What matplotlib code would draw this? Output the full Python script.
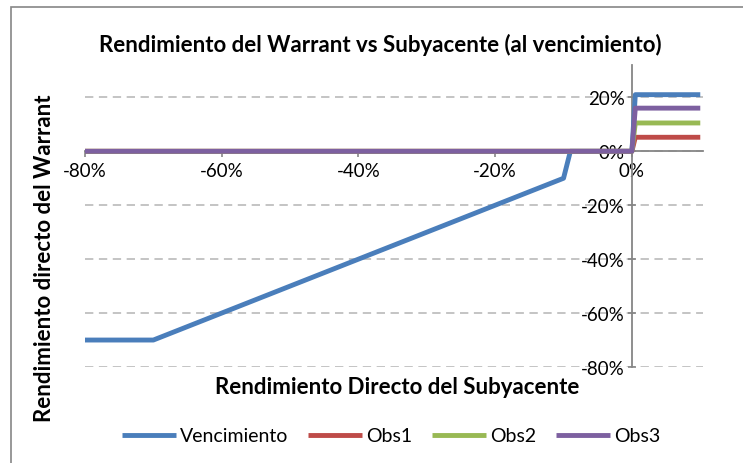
import matplotlib
matplotlib.use("Agg")
import matplotlib.pyplot as plt
from matplotlib.ticker import FuncFormatter
from matplotlib.patches import Rectangle

plt.rcParams['font.family'] = ['Lato', 'DejaVu Sans']
plt.rcParams['lines.scale_dashes'] = False

# Data (fractions)
x_venc = [-0.80, -0.70, -0.10, -0.09, 0.00, 0.005, 0.10]
y_venc = [-0.70, -0.70, -0.10, 0.00, 0.00, 0.21, 0.21]
x_obs = [-0.80, 0.00, 0.005, 0.10]
y_obs1 = [0.00, 0.00, 0.052, 0.052]
y_obs2 = [0.00, 0.00, 0.105, 0.105]
y_obs3 = [0.00, 0.00, 0.16, 0.16]

series = [
    ("Vencimiento", x_venc, y_venc, "#4A7EBB"),
    ("Obs1", x_obs, y_obs1, "#BE4B48"),
    ("Obs2", x_obs, y_obs2, "#98B954"),
    ("Obs3", x_obs, y_obs3, "#7D60A0"),
]

xticks = [-0.8, -0.6, -0.4, -0.2, 0.0]
yticks = [-0.8, -0.6, -0.4, -0.2, 0.0, 0.2]

W, H = 743, 464
fig = plt.figure(figsize=(W / 100, H / 100), dpi=100)
ax = fig.add_axes([85 / W, 1 - 368 / H, (703 - 85) / W, (368 - 66) / H])

for name, xs, ys, c in series:
    ax.plot(xs, ys, color=c, lw=3.5, label=name, solid_joinstyle='round',
            solid_capstyle='butt', zorder=3)

ax.set_xlim(-0.80, 0.104)
ax.set_ylim(-0.80, 0.32)

for s in ['top', 'right']:
    ax.spines[s].set_visible(False)
ax.spines['left'].set_position(('data', 0))
ax.spines['bottom'].set_position(('data', 0))
ax.spines['left'].set_color('#868686')
ax.spines['bottom'].set_color('#868686')
ax.spines['left'].set_linewidth(1.3)
ax.spines['bottom'].set_linewidth(1.3)
ax.spines['left'].set_zorder(2)
ax.spines['bottom'].set_zorder(2)

pct = FuncFormatter(lambda v, p: f"{round(v * 100):d}%")
ax.set_xticks(xticks)
ax.set_yticks(yticks)
ax.xaxis.set_major_formatter(pct)
ax.yaxis.set_major_formatter(pct)
ax.tick_params(axis='x', direction='out', length=4, width=1.2, color='#868686',
               labelsize=13.5, pad=4)
ax.tick_params(axis='y', direction='inout', length=6, width=1.2, color='#868686',
               labelsize=13.5, pad=2)

ax.yaxis.grid(True, color='#BFBFBF', linestyle=(0, (6, 4)), linewidth=1.3, zorder=1)
ax.set_axisbelow(True)

fig.text(380 / W, 1 - 45 / H, "Rendimiento del Warrant vs Subyacente (al vencimiento)",
         ha='center', va='center', fontsize=16, fontweight='bold')
fig.text(45 / W, 1 - 258 / H, "Rendimiento directo del Warrant", ha='center',
         va='center', rotation=90, fontsize=16, fontweight='bold')
fig.text(397 / W, 1 - 388 / H, "Rendimiento Directo del Subyacente", ha='center',
         va='center', fontsize=16, fontweight='bold')

handles, labels = ax.get_legend_handles_labels()
fig.legend(handles, labels, loc='center', bbox_to_anchor=(391 / W, 1 - 437 / H),
           ncol=4, frameon=False, fontsize=14, handlelength=2.8,
           handletextpad=0.2, columnspacing=1.0)

fig.add_artist(Rectangle((11 / W, -0.1), 1.2, 1 - 8 / H + 0.1, transform=fig.transFigure,
                         fill=False, edgecolor='#868686', linewidth=1.2))

fig.savefig("out.png", dpi=100)
